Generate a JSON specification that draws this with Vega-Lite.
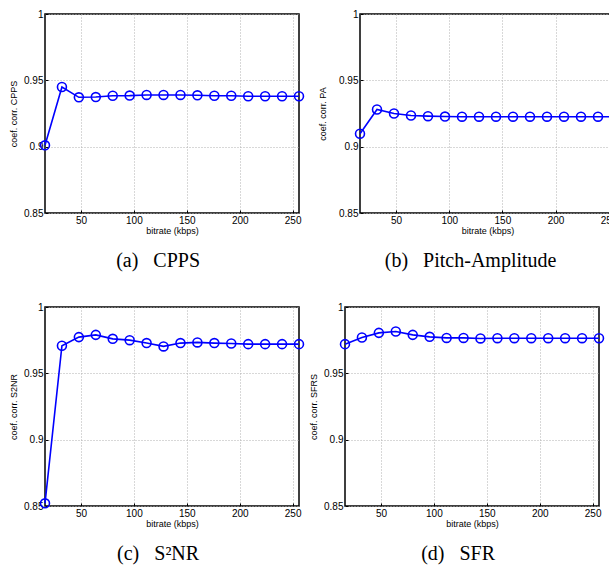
{
  "$schema": "https://vega.github.io/schema/vega-lite/v6.json",
  "padding": {"left": 8, "top": 8, "right": 0, "bottom": 0},
  "background": "white",
  "config": {
    "font": "Liberation Sans",
    "view": {"stroke": "black", "strokeWidth": 1.5},
    "axis": {
      "grid": true,
      "gridColor": "#b0b0b0",
      "gridDash": [1, 2],
      "gridWidth": 1,
      "domain": false,
      "tickColor": "black",
      "tickSize": -3,
      "labelFontSize": 10,
      "labelColor": "black",
      "titleFontSize": 9,
      "titleFontWeight": "normal",
      "titleColor": "black",
      "labelPadding": 5
    },
    "title": {"font": "Liberation Serif", "fontSize": 20, "fontWeight": "normal", "orient": "bottom", "anchor": "middle", "frame": "bounds", "color": "black", "offset": 16}
  },
  "datasets": {
    "d": [
      {"panel": "a", "bitrate": 16, "corr": 0.901},
      {"panel": "a", "bitrate": 32, "corr": 0.945},
      {"panel": "a", "bitrate": 48, "corr": 0.9372},
      {"panel": "a", "bitrate": 64, "corr": 0.9374},
      {"panel": "a", "bitrate": 80, "corr": 0.9384},
      {"panel": "a", "bitrate": 96, "corr": 0.9385},
      {"panel": "a", "bitrate": 112, "corr": 0.939},
      {"panel": "a", "bitrate": 128, "corr": 0.939},
      {"panel": "a", "bitrate": 144, "corr": 0.939},
      {"panel": "a", "bitrate": 160, "corr": 0.9387},
      {"panel": "a", "bitrate": 176, "corr": 0.9384},
      {"panel": "a", "bitrate": 192, "corr": 0.9384},
      {"panel": "a", "bitrate": 208, "corr": 0.938},
      {"panel": "a", "bitrate": 224, "corr": 0.938},
      {"panel": "a", "bitrate": 240, "corr": 0.938},
      {"panel": "a", "bitrate": 256, "corr": 0.938},
      {"panel": "b", "bitrate": 16, "corr": 0.9098},
      {"panel": "b", "bitrate": 32, "corr": 0.928},
      {"panel": "b", "bitrate": 48, "corr": 0.925},
      {"panel": "b", "bitrate": 64, "corr": 0.9235},
      {"panel": "b", "bitrate": 80, "corr": 0.923},
      {"panel": "b", "bitrate": 96, "corr": 0.9227},
      {"panel": "b", "bitrate": 112, "corr": 0.9226},
      {"panel": "b", "bitrate": 128, "corr": 0.9226},
      {"panel": "b", "bitrate": 144, "corr": 0.9226},
      {"panel": "b", "bitrate": 160, "corr": 0.9226},
      {"panel": "b", "bitrate": 176, "corr": 0.9226},
      {"panel": "b", "bitrate": 192, "corr": 0.9226},
      {"panel": "b", "bitrate": 208, "corr": 0.9226},
      {"panel": "b", "bitrate": 224, "corr": 0.9226},
      {"panel": "b", "bitrate": 240, "corr": 0.9226},
      {"panel": "b", "bitrate": 256, "corr": 0.9226},
      {"panel": "c", "bitrate": 16, "corr": 0.852},
      {"panel": "c", "bitrate": 32, "corr": 0.9708},
      {"panel": "c", "bitrate": 48, "corr": 0.9773},
      {"panel": "c", "bitrate": 64, "corr": 0.979},
      {"panel": "c", "bitrate": 80, "corr": 0.976},
      {"panel": "c", "bitrate": 96, "corr": 0.975},
      {"panel": "c", "bitrate": 112, "corr": 0.9728},
      {"panel": "c", "bitrate": 128, "corr": 0.9703},
      {"panel": "c", "bitrate": 144, "corr": 0.9728},
      {"panel": "c", "bitrate": 160, "corr": 0.9733},
      {"panel": "c", "bitrate": 176, "corr": 0.9728},
      {"panel": "c", "bitrate": 192, "corr": 0.9725},
      {"panel": "c", "bitrate": 208, "corr": 0.972},
      {"panel": "c", "bitrate": 224, "corr": 0.972},
      {"panel": "c", "bitrate": 240, "corr": 0.972},
      {"panel": "c", "bitrate": 256, "corr": 0.972},
      {"panel": "d", "bitrate": 16, "corr": 0.972},
      {"panel": "d", "bitrate": 32, "corr": 0.977},
      {"panel": "d", "bitrate": 48, "corr": 0.9805},
      {"panel": "d", "bitrate": 64, "corr": 0.9815},
      {"panel": "d", "bitrate": 80, "corr": 0.979},
      {"panel": "d", "bitrate": 96, "corr": 0.9775},
      {"panel": "d", "bitrate": 112, "corr": 0.9767},
      {"panel": "d", "bitrate": 128, "corr": 0.9767},
      {"panel": "d", "bitrate": 144, "corr": 0.9763},
      {"panel": "d", "bitrate": 160, "corr": 0.9765},
      {"panel": "d", "bitrate": 176, "corr": 0.9765},
      {"panel": "d", "bitrate": 192, "corr": 0.9765},
      {"panel": "d", "bitrate": 208, "corr": 0.9765},
      {"panel": "d", "bitrate": 224, "corr": 0.9765},
      {"panel": "d", "bitrate": 240, "corr": 0.9765},
      {"panel": "d", "bitrate": 256, "corr": 0.9765}
    ]
  },
  "spacing": 29,
  "vconcat": [
    {
      "spacing": 9,
      "hconcat": [
        {
          "width": 254, "height": 199,
          "title": {"text": "(a)\u00a0\u00a0\u00a0CPPS"},
          "data": {"name": "d"},
          "transform": [{"filter": "datum.panel === 'a'"}],
          "encoding": {
            "x": {"field": "bitrate", "type": "quantitative", "scale": {"domain": [16, 256], "nice": false}, "axis": {"values": [50, 100, 150, 200, 250], "title": "bitrate (kbps)", "titlePadding": 1}},
            "y": {"field": "corr", "type": "quantitative", "scale": {"domain": [0.85, 1], "nice": false}, "axis": {"values": [0.85, 0.9, 0.95, 1], "format": ".2~f", "title": "coef. corr. CPPS", "titlePadding": 5}}
          },
          "layer": [
            {"mark": {"type": "line", "color": "#0000ff", "strokeWidth": 1.6, "clip": false}},
            {"mark": {"type": "point", "shape": "circle", "filled": false, "color": "#0000ff", "size": 80, "strokeWidth": 1.6, "opacity": 1, "clip": false}}
          ]
        },
        {
          "width": 255, "height": 199,
          "title": {"text": "(b)\u00a0\u00a0\u00a0Pitch-Amplitude"},
          "data": {"name": "d"},
          "transform": [{"filter": "datum.panel === 'b'"}],
          "encoding": {
            "x": {"field": "bitrate", "type": "quantitative", "scale": {"domain": [16, 256], "nice": false}, "axis": {"values": [50, 100, 150, 200, 250], "title": "bitrate (kbps)", "titlePadding": 1}},
            "y": {"field": "corr", "type": "quantitative", "scale": {"domain": [0.85, 1], "nice": false}, "axis": {"values": [0.85, 0.9, 0.95, 1], "format": ".2~f", "title": "coef. corr. PA", "titlePadding": 11}}
          },
          "layer": [
            {"mark": {"type": "line", "color": "#0000ff", "strokeWidth": 1.6, "clip": false}},
            {"mark": {"type": "point", "shape": "circle", "filled": false, "color": "#0000ff", "size": 80, "strokeWidth": 1.6, "opacity": 1, "clip": false}}
          ]
        }
      ]
    },
    {
      "spacing": 0,
      "hconcat": [
        {
          "width": 254, "height": 199,
          "title": {"text": "(c)\u00a0\u00a0\u00a0S²NR"},
          "data": {"name": "d"},
          "transform": [{"filter": "datum.panel === 'c'"}],
          "encoding": {
            "x": {"field": "bitrate", "type": "quantitative", "scale": {"domain": [16, 256], "nice": false}, "axis": {"values": [50, 100, 150, 200, 250], "title": "bitrate (kbps)", "titlePadding": 1}},
            "y": {"field": "corr", "type": "quantitative", "scale": {"domain": [0.85, 1], "nice": false}, "axis": {"values": [0.85, 0.9, 0.95, 1], "format": ".2~f", "title": "coef. corr. S2NR", "titlePadding": 5}}
          },
          "layer": [
            {"mark": {"type": "line", "color": "#0000ff", "strokeWidth": 1.6, "clip": false}},
            {"mark": {"type": "point", "shape": "circle", "filled": false, "color": "#0000ff", "size": 80, "strokeWidth": 1.6, "opacity": 1, "clip": false}}
          ]
        },
        {
          "width": 254, "height": 199,
          "title": {"text": "(d)\u00a0\u00a0\u00a0SFR"},
          "data": {"name": "d"},
          "transform": [{"filter": "datum.panel === 'd'"}],
          "encoding": {
            "x": {"field": "bitrate", "type": "quantitative", "scale": {"domain": [16, 256], "nice": false}, "axis": {"values": [50, 100, 150, 200, 250], "title": "bitrate (kbps)", "titlePadding": 1}},
            "y": {"field": "corr", "type": "quantitative", "scale": {"domain": [0.85, 1], "nice": false}, "axis": {"values": [0.85, 0.9, 0.95, 1], "format": ".2~f", "title": "coef. corr. SFRS", "titlePadding": 5}}
          },
          "layer": [
            {"mark": {"type": "line", "color": "#0000ff", "strokeWidth": 1.6, "clip": false}},
            {"mark": {"type": "point", "shape": "circle", "filled": false, "color": "#0000ff", "size": 80, "strokeWidth": 1.6, "opacity": 1, "clip": false}}
          ]
        }
      ]
    }
  ]
}
